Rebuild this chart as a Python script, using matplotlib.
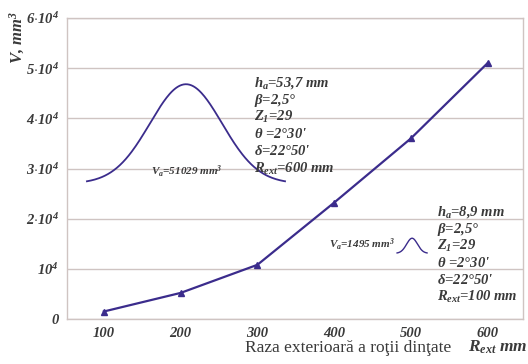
import matplotlib
matplotlib.use("Agg")
import matplotlib.pyplot as plt
import numpy as np

# ---- data ----
radius = [100, 200, 300, 400, 500, 600]
volume = [1495, 5200, 10800, 23200, 36000, 51029]
yticks = [0, 10000, 20000, 30000, 40000, 50000, 60000]
ytick_labels = ["0", r"$10^4$", r"$2{\cdot}10^4$", r"$3{\cdot}10^4$",
                r"$4{\cdot}10^4$", r"$5{\cdot}10^4$", r"$6{\cdot}10^4$"]
xticks = [100, 200, 300, 400, 500, 600]

note_big = [r"$h_a$=53,7 mm", r"$\beta$=2,5°", r"$Z_1$=29",
            r"$\theta$ =2°30'", r"$\delta$=22°50'", r"$R_{ext}$=600 mm"]
note_small = [r"$h_a$=8,9 mm", r"$\beta$=2,5°", r"$Z_1$=29",
              r"$\theta$ =2°30'", r"$\delta$=22°50'", r"$R_{ext}$=100 mm"]
vol_big = r"$V_a$=51029 mm$^3$"
vol_small = r"$V_a$=1495 mm$^3$"

plt.rcParams['mathtext.fontset'] = 'custom'
plt.rcParams['mathtext.rm'] = 'Liberation Serif:bold:italic'
plt.rcParams['mathtext.it'] = 'Liberation Serif:bold:italic'
plt.rcParams['mathtext.bf'] = 'Liberation Serif:bold:italic'
plt.rcParams['font.family'] = 'Liberation Serif'
SERIF = 'Liberation Serif'

line_color = '#3b2c8c'
text_color = '#3a3a3a'
grid_color = '#cfc4c2'

fig = plt.figure(figsize=(5.28, 3.64), dpi=100)
ax = fig.add_axes([67/528, 1-319/364, (523-67)/528, (319-18)/364])

ax.plot(radius, volume, color=line_color, lw=1.6, marker='^', ms=4,
        markerfacecolor=line_color, markeredgecolor=line_color)

ax.set_xlim(52, 646)
ax.set_ylim(0, 60000)
ax.set_yticks(yticks)
ax.set_yticklabels(ytick_labels)
ax.set_xticks(xticks)
ax.set_xticklabels([str(v) for v in xticks])
ax.tick_params(length=0, labelsize=10.5, labelcolor=text_color, pad=6)
for lab in ax.get_xticklabels() + ax.get_yticklabels():
    lab.set_fontstyle('italic')
    lab.set_fontweight('bold')
    lab.set_fontfamily(SERIF)
ax.grid(axis='y', color=grid_color, lw=1.0)
ax.set_axisbelow(True)
for s in ax.spines.values():
    s.set_color(grid_color)
    s.set_linewidth(1.0)

# decorative bell curves (illustrations of tooth profile)
def bell(x0, x1, base, peak):
    xs = np.linspace(x0, x1, 200)
    c = (x0 + x1) / 2
    sig = (x1 - x0) / 5.5
    return xs, base + (peak - base) * np.exp(-((xs - c) ** 2) / (2 * sig ** 2))

bx, by = bell(78, 336, 27000, 46800)
ax.plot(bx, by, color=line_color, lw=1.3)
sx, sy = bell(482, 521, 13100, 16100)
ax.plot(sx, sy, color=line_color, lw=1.0)

ax.text(208, 29400, vol_big, fontsize=8, ha='center', va='center',
        color=text_color, style='italic', weight='bold', family=SERIF)
ax.text(479, 14800, vol_small, fontsize=8, ha='right', va='center',
        color=text_color, style='italic', weight='bold', family=SERIF)

for i, s in enumerate(note_big):
    ax.text(296, 47000 - i * 3400, s, fontsize=10.5, ha='left', va='center',
            color=text_color, style='italic', weight='bold', family=SERIF)
for i, s in enumerate(note_small):
    ax.text(534, 21300 - i * 3400, s, fontsize=10.5, ha='left', va='center',
            color=text_color, style='italic', weight='bold', family=SERIF)

fig.text(17/528, 1-38/364, r"$V$, mm$^3$", rotation=90, fontsize=12,
         ha='center', va='center', color=text_color, style='italic',
         weight='bold', family=SERIF)
fig.text(456/528, 1-352/364, "Raza exterioară a roţii dinţate ", fontsize=12.5,
         ha='right', va='baseline', color=text_color, family=SERIF,
         style='normal', weight='normal')
fig.text(527/528, 1-352/364, r"$R_{ext}$ mm", fontsize=12.5,
         ha='right', va='baseline', color=text_color, style='italic',
         weight='bold', family=SERIF)

fig.savefig("out.png", dpi=100)
